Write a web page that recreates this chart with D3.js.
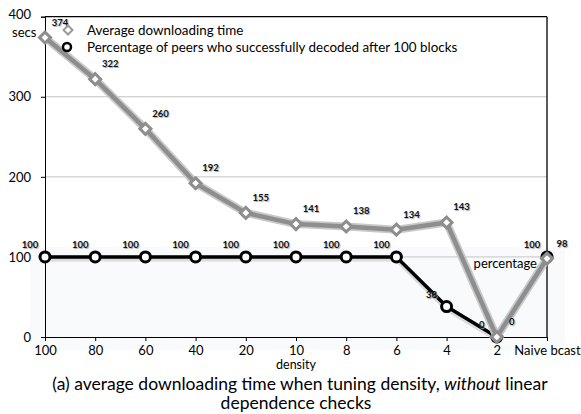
<!DOCTYPE html>
<html><head><meta charset="utf-8">
<script src="https://cdn.jsdelivr.net/npm/d3@7"></script>
<style>
body{margin:0;background:#fff;}
svg text{font-family:Lato,"Open Sans",sans-serif;}
</style></head>
<body><svg id="c" width="581" height="414"></svg>
<script>
const categories = ["100","80","60","40","20","10","8","6","4","2","Naive bcast"];
const avgTime = [374,322,260,192,155,141,138,134,143,0,98];
const pctDecoded = [100,100,100,100,100,100,100,100,38,0,100];
const yTicks = [0,100,200,300,400];
const legendLabels = ["Average downloading time","Percentage of peers who successfully decoded after 100 blocks"];

const svg = d3.select("#c");
const L=45,R=547,T=16.7,B=337;
const x = d3.scalePoint().domain(categories).range([L,R]).padding(0);
const y = d3.scaleLinear().domain([0,400]).range([B,T]);

// light background band
svg.append("rect").attr("x",30).attr("y",247).attr("width",535).attr("height",103).attr("fill","#f9fafc");

// gridlines
svg.append("g").selectAll("line").data([100,200,300]).join("line")
  .attr("x1",L).attr("x2",R).attr("y1",d=>y(d)).attr("y2",d=>y(d))
  .attr("stroke","#c4c4c4").attr("stroke-width",1);
// top & right borders
svg.append("line").attr("x1",L).attr("x2",R).attr("y1",y(400)).attr("y2",y(400)).attr("stroke","#000").attr("stroke-width",1.3);
svg.append("line").attr("x1",R).attr("x2",R).attr("y1",y(400)).attr("y2",B).attr("stroke","#000").attr("stroke-width",1.3);

// axes
const xa = svg.append("g").attr("transform",`translate(0,${B})`)
  .call(d3.axisBottom(x).tickSize(4).tickPadding(5));
xa.select(".domain").attr("stroke","#000");
xa.selectAll("text").attr("font-size",13).attr("fill","#000");
const ya = svg.append("g").attr("transform",`translate(${L},0)`)
  .call(d3.axisLeft(y).tickValues(yTicks).tickSize(4).tickPadding(10));
ya.select(".domain").attr("stroke","#000");
ya.selectAll("text").attr("font-size",13).attr("fill","#000");
ya.selectAll(".tick").filter(d=>d===400).select("text").attr("dy","0.1em");
svg.append("text").attr("x",12).attr("y",37).attr("font-size",13).text("secs");

// Black series (under gray)
const lineB = d3.line().x((d,i)=>x(categories[i])).y(d=>y(d));
svg.append("path").datum(pctDecoded).attr("d",lineB).attr("fill","none")
  .attr("stroke","#bbb").attr("stroke-width",6).attr("opacity",0.5).attr("transform","translate(0,1.5)");
svg.append("path").datum(pctDecoded).attr("d",lineB).attr("fill","none")
  .attr("stroke","#000").attr("stroke-width",3.5).attr("stroke-linejoin","round");
svg.append("g").selectAll("circle").data(pctDecoded).join("circle")
  .attr("cx",(d,i)=>x(categories[i])).attr("cy",d=>y(d)).attr("r",5)
  .attr("fill","#fff").attr("stroke","#000").attr("stroke-width",3);

// Gray series
svg.append("path").datum(avgTime).attr("d",lineB).attr("fill","none")
  .attr("stroke","#c9c9c9").attr("stroke-width",8).attr("stroke-linejoin","round");
svg.append("path").datum(avgTime).attr("d",lineB).attr("fill","none")
  .attr("stroke","#8e8e8e").attr("stroke-width",4.5).attr("stroke-linejoin","round");
svg.append("g").selectAll("path").data(avgTime).join("path")
  .attr("d",d3.symbol().type(d3.symbolSquare).size(60))
  .attr("transform",(d,i)=>`translate(${x(categories[i])},${y(d)}) rotate(45)`)
  .attr("fill","#fff").attr("stroke","#8e8e8e").attr("stroke-width",3);

// data labels
const lblStyle = s=>s.attr("font-size",9.5).attr("font-weight","bold").attr("fill","#111")
  .style("text-shadow","1px 1px 1px #aaa");
svg.append("g").selectAll("text").data(avgTime).join("text")
  .attr("x",(d,i)=>x(categories[i])+15).attr("y",d=>y(d)-12).attr("text-anchor","middle")
  .text(d=>d).call(lblStyle);
svg.append("g").selectAll("text").data(pctDecoded).join("text")
  .attr("x",(d,i)=>x(categories[i])-15).attr("y",d=>y(d)-9).attr("text-anchor","middle")
  .text(d=>d).call(lblStyle);

// legend
const lg = svg.append("g");
lg.append("path").attr("d",d3.symbol().type(d3.symbolSquare).size(40)).attr("transform","translate(68,30) rotate(45)")
  .attr("fill","#fff").attr("stroke","#999").attr("stroke-width",2);
lg.append("circle").attr("cx",67).attr("cy",47).attr("r",4).attr("fill","#fff").attr("stroke","#000").attr("stroke-width",2.5);
lg.selectAll("text").data(legendLabels).join("text")
  .attr("x",87).attr("y",(d,i)=>35+i*16.5).attr("font-size",13.4).text(d=>d);

// annotations
svg.append("text").attr("x",537).attr("y",268).attr("text-anchor","end").attr("font-size",13).text("percentage");
svg.append("text").attr("x",296).attr("y",369).attr("text-anchor","middle").attr("font-size",12.5).text("density");
const cap = svg.append("text").attr("x",300).attr("y",390).attr("text-anchor","middle").attr("font-size",17.5);
cap.append("tspan").text("(a) average downloading time when tuning density, ");
cap.append("tspan").attr("font-style","italic").text("without");
cap.append("tspan").text(" linear");
svg.append("text").attr("x",296).attr("y",409).attr("text-anchor","middle").attr("font-size",17.5).text("dependence checks");
</script></body></html>
